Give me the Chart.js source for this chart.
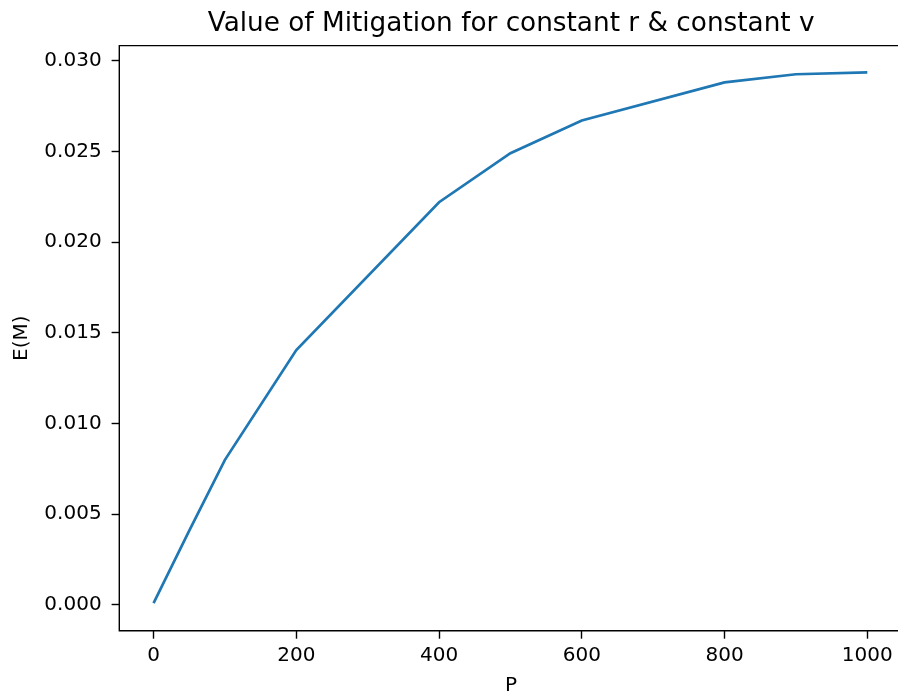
<!DOCTYPE html>
<html>
<head>
<meta charset="utf-8">
<script src="https://cdn.jsdelivr.net/npm/chart.js@4.4.1/dist/chart.umd.min.js"></script>
<style>
  html, body { margin: 0; padding: 0; background: #fff; overflow: hidden; }
  #outer { width: 898px; height: 696px; overflow: hidden; position: relative; }
  canvas { display: block; }
</style>
</head>
<body>
<div id="outer"><canvas id="c" width="906" height="696" style="width:906px;height:696px"></canvas></div>
<script>
// Data
const pValues = [0, 50, 100, 200, 400, 500, 600, 800, 900, 1000];
const emValues = [0.0001, 0.0041, 0.0080, 0.01405, 0.0222, 0.0249, 0.0267, 0.0288, 0.02925, 0.02935];
const xTickValues = [0, 200, 400, 600, 800, 1000];
const yTickValues = [0, 0.005, 0.010, 0.015, 0.020, 0.025, 0.030];
const titleText = 'Value of Mitigation for constant r & constant v';
const xLabel = 'P';
const yLabel = 'E(M)';

const FONT = "'DejaVu Sans', sans-serif";

// axes frame: left, top and bottom spines (the right spine lies beyond the visible width)
const frame = {
  id: 'frame',
  afterDraw(chart) {
    const a = chart.chartArea, ctx = chart.ctx;
    ctx.save();
    ctx.strokeStyle = '#000';
    ctx.lineWidth = 1.4;
    ctx.beginPath();
    ctx.moveTo(a.right, a.top);
    ctx.lineTo(a.left, a.top);
    ctx.lineTo(a.left, a.bottom);
    ctx.lineTo(a.right, a.bottom);
    ctx.stroke();
    ctx.restore();
  }
};

new Chart(document.getElementById('c'), {
  type: 'line',
  data: {
    datasets: [{
      data: pValues.map((p, i) => ({ x: p, y: emValues[i] })),
      borderColor: '#1f77b4',
      borderWidth: 2.7,
      pointRadius: 0,
      tension: 0,
      fill: false
    }]
  },
  options: {
    responsive: false,
    animation: false,
    devicePixelRatio: 1,
    layout: { padding: { left: 0, right: 3, top: 0, bottom: 0 } },
    plugins: {
      legend: { display: false },
      tooltip: { enabled: false },
      title: {
        display: true,
        text: titleText,
        fullSize: false,
        color: '#000',
        font: { family: FONT, size: 26.3, weight: 'normal' },
        padding: { top: 8.3, bottom: 5.8 }
      }
    },
    scales: {
      x: {
        type: 'linear',
        min: -48,
        max: 1050,
        afterBuildTicks: (s) => { s.ticks = xTickValues.map(v => ({ value: v })); },
        afterFit: (s) => { s.height = 65.3; },
        ticks: {
          color: '#000',
          font: { family: FONT, size: 20 },
          padding: 5,
          maxRotation: 0,
          callback: (v) => String(v)
        },
        grid: { display: true, drawOnChartArea: false, drawTicks: true, tickLength: 8, tickColor: '#000', tickWidth: 1.4 },
        border: { display: false },
        title: { display: true, text: xLabel, color: '#000', font: { family: FONT, size: 20 }, padding: { top: 0, bottom: -2 } }
      },
      y: {
        type: 'linear',
        min: -0.001417,
        max: 0.030827,
        afterBuildTicks: (s) => { s.ticks = yTickValues.map(v => ({ value: v })); },
        afterFit: (s) => { s.width = 119.3; },
        ticks: {
          color: '#000',
          font: { family: FONT, size: 20 },
          padding: 10,
          callback: (v) => Number(v).toFixed(3)
        },
        grid: { display: true, drawOnChartArea: false, drawTicks: true, tickLength: 7.7, tickColor: '#000', tickWidth: 1.4 },
        border: { display: false },
        title: { display: true, text: yLabel, color: '#000', font: { family: FONT, size: 20 }, padding: { top: 10, bottom: 0 } }
      }
    }
  },
  plugins: [frame]
});
</script>
</body>
</html>
